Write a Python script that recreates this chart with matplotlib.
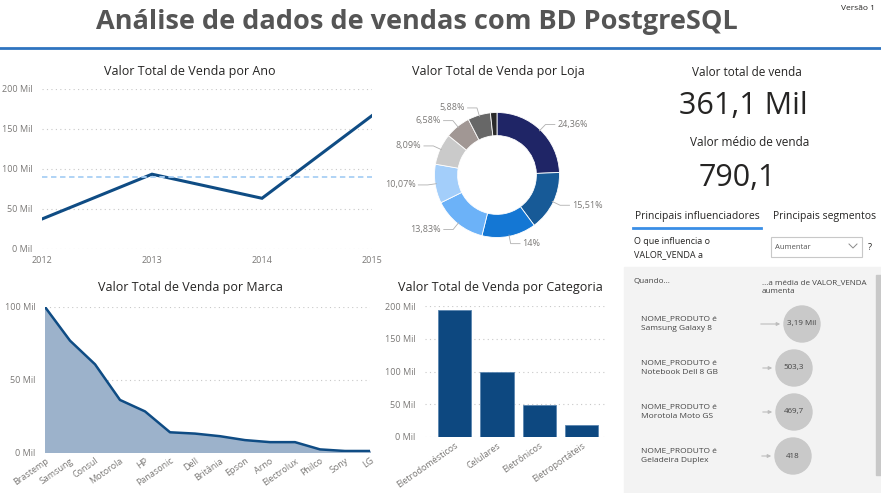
import numpy as np
import matplotlib
matplotlib.use("Agg")
import matplotlib.pyplot as plt
from matplotlib.patches import Circle, Rectangle

plt.rcParams['font.family'] = ['Open Sans', 'DejaVu Sans']

# dados (valores em milhares)
anos = [2012, 2013, 2014, 2015]
venda_ano = [37.5, 93.5, 63.4, 166.7]

loja_pct = [24.36, 15.51, 14.0, 13.83, 10.07, 8.09, 6.58, 5.88, 1.68]
loja_cores = ['#1f2566', '#175a97', '#1477d4', '#6cb2f8', '#a3cefa',
              '#cacaca', '#a19794', '#676767', '#2a2a2a']

marcas = ['Brastemp', 'Samsung', 'Consul', 'Motorola', 'HP', 'Panasonic', 'Dell',
          'Britânia', 'Epson', 'Arno', 'Electrolux', 'Philco', 'Sony', 'LG']
venda_marca = [100, 76.8, 60.5, 35.9, 28.0, 13.6, 12.7, 10.9, 8.2, 6.8, 6.8, 1.8, 0.7, 0.7]

categorias = ['Eletrodomésticos', 'Celulares', 'Eletrônicos', 'Eletroportáteis']
venda_cat = [194, 99, 49, 19]

total_venda = '361,1 Mil'
media_venda = '790,1'
influenciadores = ['Samsung Galaxy 8', 'Notebook Dell 8 GB', 'Morotola Moto GS', 'Geladeira Duplex']
influencia_valor = ['3,19 Mil', '503,3', '469,7', '418']

W, H = 881, 493
fig = plt.figure(figsize=(W / 100, H / 100), dpi=100)
fig.patch.set_facecolor('white')

TXT = '#252423'
GRAY = '#7a7876'
BLUE = '#0f4c84'


def px_ax(l, t, r, b):
    return fig.add_axes([l / W, 1 - b / H, (r - l) / W, (b - t) / H])


def ftext(x, y, s, **kw):
    fig.text(x / W, 1 - y / H, s, **kw)


def mil(v, pos=None):
    return f"{int(v)} Mil"


def style_axes(ax):
    for s in ax.spines.values():
        s.set_visible(False)
    ax.tick_params(length=0, labelsize=6.5, labelcolor=GRAY, pad=3)
    ax.tick_params(axis='y', pad=7)
    ax.yaxis.set_major_formatter(matplotlib.ticker.FuncFormatter(mil))
    ax.grid(axis='y', linestyle=(0, (1, 3)), color='#c8c8c8', linewidth=0.8)
    ax.set_axisbelow(True)


# camada de fundo em pixels
bg = fig.add_axes([0, 0, 1, 1])
bg.set_xlim(0, W)
bg.set_ylim(H, 0)
bg.axis('off')
bg.plot([0, W], [48, 48], color='#2f74c0', lw=2)
bg.add_patch(Rectangle((624, 267), 257, 226, color='#f3f3f3', zorder=0))
bg.add_patch(Rectangle((876, 275), 5, 200, color='#c8c8c8', zorder=1))
bg.plot([633, 761], [228, 228], color='#3a8ee6', lw=2)
bg.add_patch(Rectangle((771, 237), 91, 20, facecolor='white', edgecolor='#c8c8c8', lw=0.8))
bg.plot([849, 853, 857], [244, 248, 244], color='#8a8a8a', lw=0.7)

ftext(417, 22, 'Análise de dados de vendas com BD PostgreSQL', fontsize=19.5, fontweight='bold',
      color='#555555', ha='center', va='center')
ftext(858, 8, 'Versão 1', fontsize=6, color=TXT, ha='center', va='center')

# linha por ano
ax1 = px_ax(42, 89, 372, 249)
style_axes(ax1)
ax1.plot(anos, venda_ano, color=BLUE, lw=2.2, solid_joinstyle='miter')
media = sum(venda_ano) / len(venda_ano)
ax1.axhline(media, color='#a9d0f5', lw=1.3, ls=(0, (3, 2)))
ax1.set_xlim(2012, 2015)
ax1.set_ylim(0, 200)
ax1.set_xticks(anos)
ax1.set_yticks([0, 50, 100, 150, 200])
ax1.tick_params(axis='x', pad=5)
ftext(190, 72, 'Valor Total de Venda por Ano', fontsize=9, color=TXT, ha='center', va='center')

# donut por loja
ax2 = px_ax(397, 75, 597, 275)
wedges, _ = ax2.pie(loja_pct, colors=loja_cores, startangle=90, counterclock=False,
                    radius=1, wedgeprops=dict(width=0.37, edgecolor='white', linewidth=0.6))
ax2.set_xlim(-1.6, 1.6)
ax2.set_ylim(-1.6, 1.6)
for w, p in zip(wedges, loja_pct):
    if p < 3:
        continue
    ang = np.deg2rad((w.theta1 + w.theta2) / 2)
    x0, y0 = np.cos(ang), np.sin(ang)
    x1, y1 = 1.12 * x0, 1.12 * y0
    side = 1 if x0 >= 0 else -1
    x2 = x1 + side * 0.15
    ax2.plot([x0 * 0.98, x1, x2], [y0 * 0.98, y1, y1], color='#b0b0b0', lw=0.6)
    lab = f"{p:.2f}".rstrip('0').rstrip('.').replace('.', ',') + '%'
    ax2.text(x2 + side * 0.04, y1, lab, fontsize=6.5, color=GRAY,
             ha='left' if side > 0 else 'right', va='center')
ftext(498, 72, 'Valor Total de Venda por Loja', fontsize=9, color=TXT, ha='center', va='center')

# area por marca
ax3 = px_ax(45, 307, 370, 452)
style_axes(ax3)
xm = np.arange(len(marcas))
ax3.fill_between(xm, venda_marca, color='#9cb2cb')
ax3.plot(xm, venda_marca, color=BLUE, lw=1.8)
ax3.set_xlim(0, len(marcas) - 1)
ax3.set_ylim(0, 100)
ax3.set_yticks([0, 50, 100])
ax3.set_xticks(xm)
ax3.set_xticklabels(marcas, rotation=35, ha='right', rotation_mode='anchor')
ftext(190, 288, 'Valor Total de Venda por Marca', fontsize=9, color=TXT, ha='center', va='center')

# barras por categoria
ax4 = px_ax(425, 306, 605, 437)
style_axes(ax4)
xc = np.arange(len(categorias))
ax4.bar(xc, venda_cat, width=0.78, color='#0d4880', edgecolor='#5a86b0', linewidth=0.6)
ax4.set_xlim(-0.7, 3.55)
ax4.set_ylim(0, 200)
ax4.set_yticks([0, 50, 100, 150, 200])
ax4.set_xticks(xc)
ax4.set_xticklabels(categorias, rotation=35, ha='right', rotation_mode='anchor')
ftext(500, 288, 'Valor Total de Venda por Categoria', fontsize=9, color=TXT, ha='center', va='center')

# cartoes
ftext(747, 72, 'Valor total de venda', fontsize=8.5, color=TXT, ha='center', va='center')
ftext(743, 106, total_venda, fontsize=22, color=TXT, ha='center', va='center')
ftext(750, 143, 'Valor médio de venda', fontsize=8.5, color=TXT, ha='center', va='center')
ftext(737, 178, media_venda, fontsize=22, color=TXT, ha='center', va='center')

# principais influenciadores
ftext(697, 217, 'Principais influenciadores', fontsize=7.5, color=TXT, ha='center', va='center')
ftext(825, 217, 'Principais segmentos', fontsize=7.5, color=TXT, ha='center', va='center')
ftext(634, 248, 'O que influencia o\nVALOR_VENDA a', fontsize=6.5, color=TXT, ha='left', va='center',
      linespacing=1.5)
ftext(775, 247, 'Aumentar', fontsize=5.5, color='#555555', ha='left', va='center')
ftext(870, 247, '?', fontsize=6.5, color=TXT, ha='center', va='center')
ftext(633, 281, 'Quando...', fontsize=5.8, color='#444444', ha='left', va='center')
ftext(762, 287, '...a média de VALOR_VENDA\naumenta', fontsize=5.8, color='#444444', ha='left',
      va='center', linespacing=1.4)

cx = [802, 794, 794, 793]
cy = [324, 368, 412, 456]
for i, (nome, val) in enumerate(zip(influenciadores, influencia_valor)):
    ftext(641, cy[i], 'NOME_PRODUTO é\n' + nome, fontsize=6, color='#444444', ha='left',
          va='center', linespacing=1.5)
    r = 18
    bg.add_patch(Circle((cx[i], cy[i]), r, color='#c9c9c9', zorder=2))
    x0 = 758 if i == 0 else cx[i] - r - 16
    bg.annotate('', xy=(cx[i] - r - 1, cy[i]), xytext=(x0, cy[i]),
                arrowprops=dict(arrowstyle='-|>', color='#bdbdbd', lw=0.8, mutation_scale=5))
    ftext(cx[i], cy[i], val, fontsize=5.8, color='#444444', ha='center', va='center', zorder=5)

fig.savefig('out.png', dpi=100)
